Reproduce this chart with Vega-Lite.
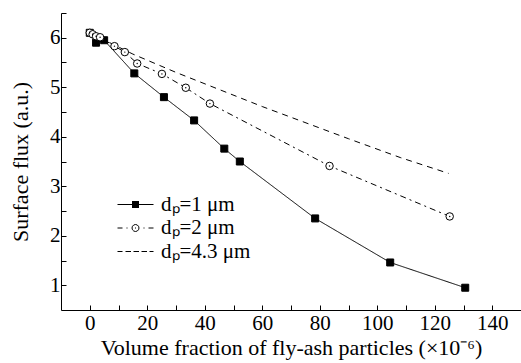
{
  "$schema": "https://vega.github.io/schema/vega-lite/v6.json",
  "width": 460,
  "height": 297,
  "autosize": "none",
  "padding": {"left": 61, "top": 13, "right": 0, "bottom": 53},
  "background": "white",
  "config": {
    "view": {"stroke": null},
    "font": "Liberation Serif",
    "axis": {
      "grid": false,
      "domainColor": "black",
      "domainWidth": 1,
      "tickColor": "black",
      "tickWidth": 1,
      "labelColor": "black",
      "titleColor": "black",
      "labelFont": "Liberation Serif",
      "titleFont": "Liberation Serif",
      "labelFontSize": 21,
      "titleFontSize": 22,
      "titleFontWeight": "normal",
      "labelOverlap": false,
      "labelFlush": false
    },
    "legend": {
      "labelFont": "Liberation Serif",
      "labelFontSize": 21,
      "labelColor": "black"
    }
  },
  "datasets": {
    "curves": [
      {"series": "dₚ=1 μm", "x": 0, "y": 6.1},
      {"series": "dₚ=1 μm", "x": 2.2, "y": 5.9},
      {"series": "dₚ=1 μm", "x": 5, "y": 5.95},
      {"series": "dₚ=1 μm", "x": 15.5, "y": 5.28},
      {"series": "dₚ=1 μm", "x": 25.8, "y": 4.8},
      {"series": "dₚ=1 μm", "x": 36.3, "y": 4.33},
      {"series": "dₚ=1 μm", "x": 46.8, "y": 3.76},
      {"series": "dₚ=1 μm", "x": 52.2, "y": 3.5},
      {"series": "dₚ=1 μm", "x": 78.4, "y": 2.35},
      {"series": "dₚ=1 μm", "x": 104.5, "y": 1.46},
      {"series": "dₚ=1 μm", "x": 130.6, "y": 0.95},
      {"series": "dₚ=2 μm", "x": 0, "y": 6.1},
      {"series": "dₚ=2 μm", "x": 1, "y": 6.07},
      {"series": "dₚ=2 μm", "x": 2.2, "y": 6.03},
      {"series": "dₚ=2 μm", "x": 3.6, "y": 6.01},
      {"series": "dₚ=2 μm", "x": 8.6, "y": 5.83},
      {"series": "dₚ=2 μm", "x": 12.2, "y": 5.71},
      {"series": "dₚ=2 μm", "x": 16.5, "y": 5.48},
      {"series": "dₚ=2 μm", "x": 25.1, "y": 5.27},
      {"series": "dₚ=2 μm", "x": 33.4, "y": 4.99},
      {"series": "dₚ=2 μm", "x": 41.8, "y": 4.67},
      {"series": "dₚ=2 μm", "x": 83.4, "y": 3.41},
      {"series": "dₚ=2 μm", "x": 125.2, "y": 2.39},
      {"series": "dₚ=4.3 μm", "x": 0, "y": 6.1},
      {"series": "dₚ=4.3 μm", "x": 15, "y": 5.67},
      {"series": "dₚ=4.3 μm", "x": 30, "y": 5.3},
      {"series": "dₚ=4.3 μm", "x": 60, "y": 4.61},
      {"series": "dₚ=4.3 μm", "x": 90, "y": 3.96},
      {"series": "dₚ=4.3 μm", "x": 108, "y": 3.58},
      {"series": "dₚ=4.3 μm", "x": 124.8, "y": 3.26}
    ]
  },
  "data": {"name": "curves"},
  "encoding": {
    "x": {
      "field": "x",
      "type": "quantitative",
      "scale": {"domain": [-10, 150], "nice": false, "zero": false},
      "axis": {
        "title": "Volume fraction of fly-ash particles (×10⁻⁶)",
        "values": [0, 10, 20, 30, 40, 50, 60, 70, 80, 90, 100, 110, 120, 130, 140, 150],
        "labelExpr": "datum.value % 20 === 0 ? format(datum.value, 'd') : ''",
        "labelFont": "Liberation Serif",
        "titleFont": "Liberation Serif",
        "tickSize": -5,
        "labelPadding": 7,
        "titlePadding": 4,
        "encode": {"ticks": {"update": {"y2": {"signal": "datum.value % 20 === 0 ? -5 : -3"}}}}
      }
    },
    "y": {
      "field": "y",
      "type": "quantitative",
      "scale": {"domain": [0.5, 6.5], "nice": false, "zero": false},
      "axis": {
        "title": "Surface flux (a.u.)",
        "values": [1, 1.5, 2, 2.5, 3, 3.5, 4, 4.5, 5, 5.5, 6, 6.5],
        "labelExpr": "datum.value % 1 === 0 ? format(datum.value, 'd') : ''",
        "labelFont": "Liberation Serif",
        "titleFont": "Liberation Serif",
        "tickSize": -5,
        "labelPadding": 6,
        "titlePadding": 17,
        "encode": {"ticks": {"update": {"x2": {"signal": "datum.value % 1 === 0 ? 5 : 3"}}}}
      }
    }
  },
  "layer": [
    {
      "mark": {"type": "line", "color": "black", "strokeWidth": 1},
      "encoding": {
        "strokeDash": {
          "field": "series",
          "type": "nominal",
          "scale": {"domain": ["dₚ=1 μm", "dₚ=2 μm", "dₚ=4.3 μm"], "range": [[1, 0], [6, 4, 2, 4], [6, 5]]},
          "legend": null
        }
      }
    },
    {
      "transform": [{"filter": "datum.series !== 'dₚ=4.3 μm'"}],
      "mark": {"type": "point", "filled": false, "stroke": "black", "strokeWidth": 1, "opacity": 1},
      "encoding": {
        "shape": {
          "field": "series",
          "type": "nominal",
          "scale": {"domain": ["dₚ=1 μm", "dₚ=2 μm"], "range": ["square", "circle"]},
          "legend": null
        },
        "fill": {
          "field": "series",
          "type": "nominal",
          "scale": {"domain": ["dₚ=1 μm", "dₚ=2 μm"], "range": ["black", "white"]},
          "legend": null
        },
        "size": {
          "field": "series",
          "type": "nominal",
          "scale": {"domain": ["dₚ=1 μm", "dₚ=2 μm"], "range": [49, 56]},
          "legend": null
        }
      }
    },
    {
      "transform": [{"filter": "datum.series === 'dₚ=2 μm'"}],
      "mark": {"type": "point", "filled": true, "color": "black", "size": 2, "opacity": 1}
    },
    {
      "mark": {"type": "point", "opacity": 0, "size": 1},
      "encoding": {
        "shape": {
          "field": "series",
          "type": "nominal",
          "scale": {
            "domain": ["dₚ=1 μm", "dₚ=2 μm", "dₚ=4.3 μm"],
            "range": [
              "M-3.6,0H-0.7M0.7,0H3.6M-0.7,-0.6H0.7M-0.7,-0.4H0.7M-0.7,-0.2H0.7M-0.7,0H0.7M-0.7,0.2H0.7M-0.7,0.4H0.7M-0.7,0.6H0.7",
              "M-3.6,0H-2.6M-1.8,0H-1.6M1.6,0H1.8M2.6,0H3.6M0.7,0L0.606,0.35L0.35,0.606L0,0.7L-0.35,0.606L-0.606,0.35L-0.7,0L-0.606,-0.35L-0.35,-0.606L0,-0.7L0.35,-0.606L0.606,-0.35ZM-0.1,0H0.1",
              "M-3.6,0H-2.6M-2.0,0H-0.9M-0.4,0H0.7M1.2,0H2.3M2.8,0H3.6"
            ]
          },
          "legend": {
            "title": null,
            "orient": "none",
            "legendX": 64,
            "legendY": 181,
            "padding": 0,
            "symbolSize": 100,
            "symbolOpacity": 1,
            "symbolStrokeColor": "black",
            "symbolFillColor": "transparent",
            "symbolStrokeWidth": 1,
            "labelFont": "Liberation Serif",
            "labelFontSize": 21,
            "labelOffset": 15,
            "rowPadding": 1.5
          }
        }
      }
    }
  ],
  "resolve": {"scale": {"shape": "independent"}}
}
